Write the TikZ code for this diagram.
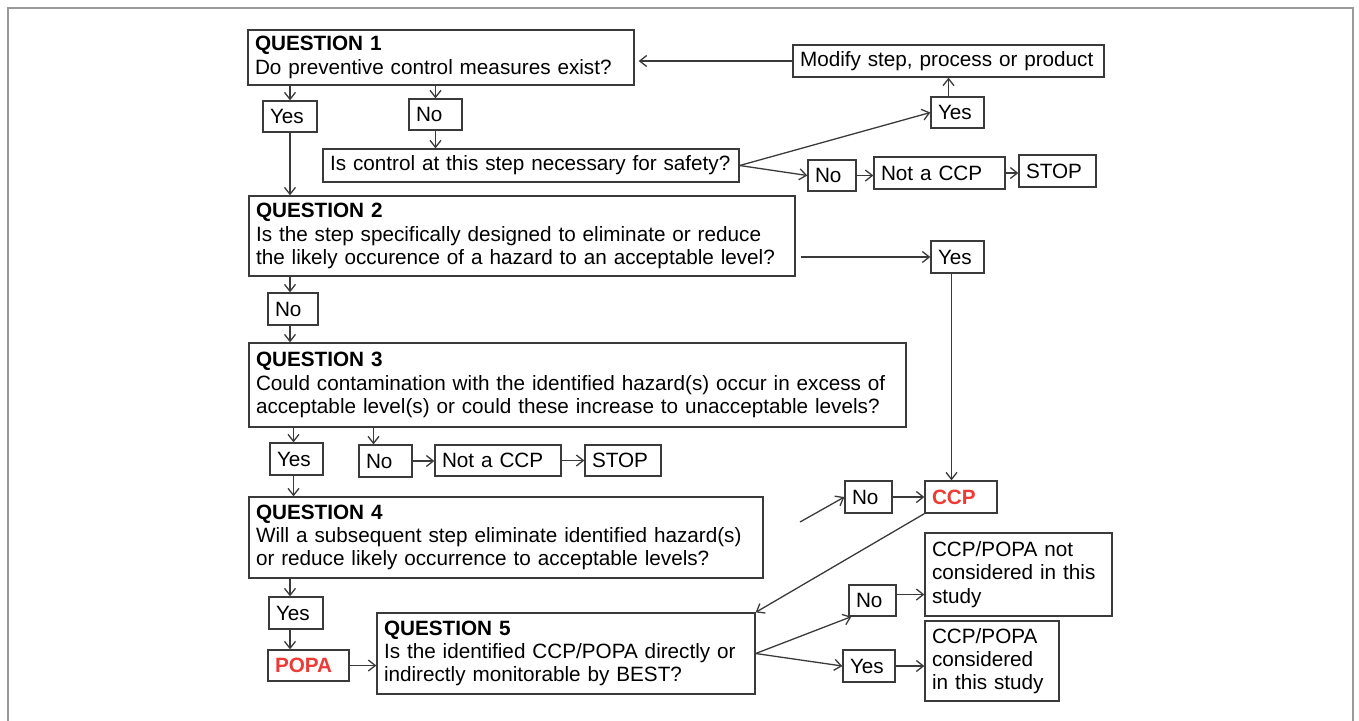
\documentclass[tikz,border=0pt]{standalone}
\usepackage{fontspec}
\setmainfont{Liberation Sans}
\usetikzlibrary{arrows.meta}
\definecolor{ln}{HTML}{3A3A3A}
\definecolor{ccpred}{HTML}{EE3A36}
\definecolor{frame}{HTML}{9A9A9A}
\tikzset{
  bx/.style={draw=ln, line width=0.65pt, inner xsep=3.5pt, inner ysep=0pt, align=left,
    font=\fontsize{10.35}{11.6}\selectfont, text=black},
  sz/.style n args={3}{minimum width=#1, minimum height=#2, text width=#3},
  redtext/.style={text=ccpred, font=\fontsize{10.35}{11.6}\selectfont\bfseries},
  arr/.style={draw=ln, line width=0.65pt, -{Straight Barb[length=3.5pt,width=5.5pt]}}
}
\newcommand{\qhead}[1]{\mbox{\textbf{#1}}}
\newcommand{\oneline}[1]{\mbox{#1}}
\begin{document}
\begin{tikzpicture}[x=0.5pt,y=-0.5pt]
\useasboundingbox (0,0) rectangle (1359,720);
\begin{scope}
\clip (0,0) rectangle (1359,720);
\draw[frame, line width=1pt] (8,8) rectangle (1353,760);
\end{scope}

% nodes
\node[bx, sz={193pt}{27.5pt}{186pt}] (q1) at (441,57.5) {\qhead{QUESTION 1}\\\oneline{Do preventive control measures exist?}};
\node[bx, sz={155.5pt}{16pt}{148.5pt}] (modify) at (948.5,61) {\oneline{Modify step, process or product}};
\node[bx, sz={27pt}{15.5pt}{20pt}] (yes1) at (290,116.5) {Yes};
\node[bx, sz={26.5pt}{15.5pt}{19.5pt}] (no1) at (435.5,114.5) {No};
\node[bx, sz={208pt}{16.5pt}{201pt}] (ctrl) at (531,165.5) {\oneline{Is control at this step necessary for safety?}};
\node[bx, sz={26.5pt}{15.5pt}{19.5pt}] (yes2) at (957.5,112.5) {Yes};
\node[bx, sz={24pt}{15.5pt}{17pt}] (no2) at (832,175.5) {No};
\node[bx, sz={65.5pt}{16pt}{58.5pt}] (notccp1) at (939.5,173) {\oneline{Not a CCP}};
\node[bx, sz={38.5pt}{16pt}{31.5pt}] (stop1) at (1057.5,171) {STOP};

\node[bx, sz={273pt}{40pt}{266pt}] (q2) at (522,236) {\qhead{QUESTION 2}\\\oneline{Is the step specifically designed to eliminate or reduce}\\\oneline{the likely occurence of a hazard to an acceptable level?}};
\node[bx, sz={26.5pt}{16pt}{19.5pt}] (yes3) at (957.5,257) {Yes};
\node[bx, sz={25pt}{16pt}{18pt}] (no3) at (293,309) {No};

\node[bx, sz={328.5pt}{42pt}{321.5pt}] (q3) at (577.5,385) {\qhead{QUESTION 3}\\\oneline{Could contamination with the identified hazard(s) occur in excess of}\\\oneline{acceptable level(s) or could these increase to unacceptable levels?}};
\node[bx, sz={26.5pt}{16pt}{19.5pt}] (yes4) at (296.5,459) {Yes};
\node[bx, sz={26.5pt}{16pt}{19.5pt}] (no4) at (385.5,461) {No};
\node[bx, sz={63pt}{15.5pt}{56pt}] (notccp2) at (498,460.5) {\oneline{Not a CCP}};
\node[bx, sz={38pt}{15.5pt}{31pt}] (stop2) at (623,460.5) {STOP};

\node[bx, sz={257pt}{40.5pt}{250pt}] (q4) at (506,537.5) {\qhead{QUESTION 4}\\\oneline{Will a subsequent step eliminate identified hazard(s)}\\\oneline{or reduce likely occurrence to acceptable levels?}};
\node[bx, sz={27pt}{16pt}{20pt}] (yes5) at (296,613) {Yes};
\node[bx, redtext, sz={40.5pt}{15.5pt}{33.5pt}] (popa) at (308.5,665.5) {POPA};
\node[bx, sz={189pt}{40.5pt}{182pt}] (q5) at (566,653.5) {\qhead{QUESTION 5}\\\oneline{Is the identified CCP/POPA directly or}\\\oneline{indirectly monitorable by BEST?}};

\node[bx, sz={23.5pt}{16pt}{16.5pt}] (no6) at (868.5,497) {No};
\node[bx, redtext, sz={36pt}{16pt}{29pt}] (ccp) at (961,497) {CCP};
\node[bx, sz={23.5pt}{15.5pt}{16.5pt}] (no7) at (872.5,600.5) {No};
\node[bx, sz={26pt}{16pt}{19pt}] (yes7) at (869,666) {Yes};
\node[bx, sz={93.5pt}{41.5pt}{86.5pt}] (res1) at (1018.5,574.5) {\oneline{CCP/POPA not}\\\oneline{considered in this}\\study};
\node[bx, sz={67pt}{40pt}{60pt}] (res2) at (992,661) {CCP/POPA\\considered\\\oneline{in this study}};

\coordinate (free) at (800,522);

% connectors
\draw[arr, shorten >=2pt] (modify.west) -- (modify.west -| q1.east);
\draw[arr] (q1.south -| yes1) -- (yes1.north);
\draw[arr] (q1.south -| no1) -- (no1.north);
\draw[arr] (no1.south) -- (ctrl.north -| no1);
\draw[arr] (ctrl.east) -- (yes2.west);
\draw[arr] (ctrl.east) -- (no2.west);
\draw[arr] ([xshift=-4.5pt]yes2.north) -- ([xshift=-4.5pt]yes2.north |- modify.south);
\draw[arr] (no2.east) -- (no2.east -| notccp1.west);
\draw[arr] (notccp1.east) -- (notccp1.east -| stop1.west);

\draw[arr] (yes1.south) -- (q2.north -| yes1);
\draw[arr] ([xshift=2.5pt]yes3.west -| q2.east) -- (yes3.west);
\draw[arr] ([xshift=-3pt]yes3.south) -- ([xshift=-3pt]yes3.south |- ccp.north);
\draw[arr] ([xshift=-1.5pt]no3.north |- q2.south) -- ([xshift=-1.5pt]no3.north);
\draw[arr] ([xshift=-1.5pt]no3.south) -- ([xshift=-1.5pt]no3.south |- q3.north);

\draw[arr] ([xshift=-1.5pt]yes4.north |- q3.south) -- ([xshift=-1.5pt]yes4.north);
\draw[arr] ([xshift=-6pt]no4.north |- q3.south) -- ([xshift=-6pt]no4.north);
\draw[arr] (no4.east) -- (no4.east -| notccp2.west);
\draw[arr] (notccp2.east) -- (notccp2.east -| stop2.west);
\draw[arr] ([xshift=-1.5pt]yes4.south) -- ([xshift=-1.5pt]yes4.south |- q4.north);

\draw[arr] ([xshift=-3pt]yes5.north |- q4.south) -- ([xshift=-3pt]yes5.north);
\draw[arr] ([xshift=-3pt]yes5.south) -- ([xshift=-3pt]yes5.south |- popa.north);
\draw[arr] (popa.east) -- (popa.east -| q5.west);

\draw[arr] (free) -- (no6.west);
\draw[arr] (no6.east) -- (ccp.west);
\draw[arr] (ccp.south west) -- (q5.north east);
\draw[arr] (q5.east) -- ([xshift=1.5pt]no7.south west);
\draw[arr] (q5.east) -- (yes7.west);
\draw[arr] ([yshift=3pt]no7.east) -- ([yshift=3pt]no7.east -| res1.west);
\draw[arr] (yes7.east) -- (yes7.east -| res2.west);
\end{tikzpicture}
\end{document}
